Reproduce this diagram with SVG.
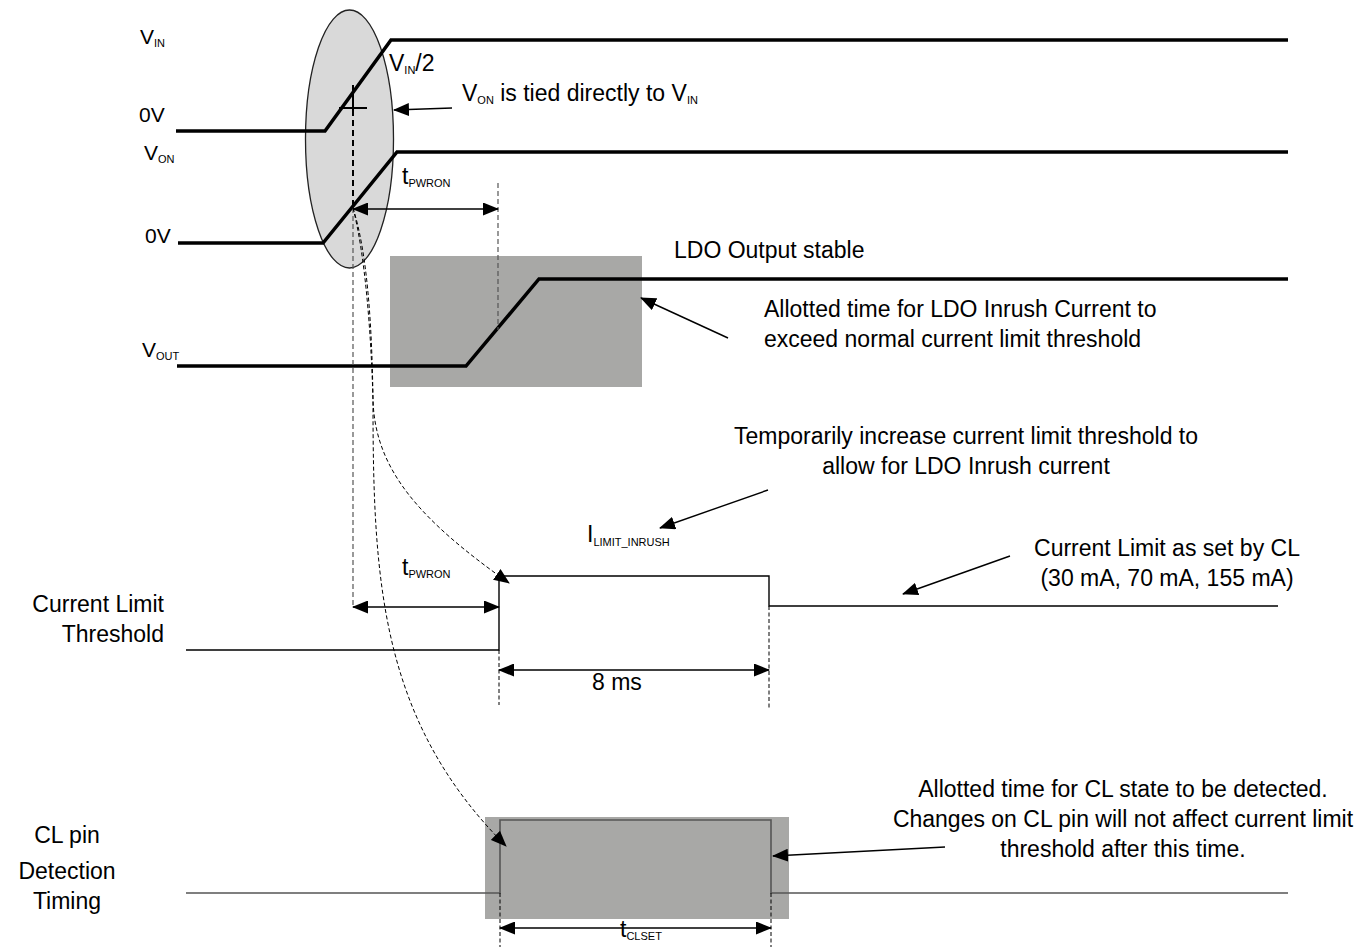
<svg xmlns="http://www.w3.org/2000/svg" width="1359" height="947" viewBox="0 0 1359 947">
<style>
text{font-family:"Liberation Sans",Arial,sans-serif;font-size:23px;fill:#000}
.lbl{font-size:21px}
.sub{font-size:11px}
.trace{fill:none;stroke:#000;stroke-width:3.5;stroke-linejoin:miter}
.thin{fill:none;stroke:#000;stroke-width:1.4}
.gsig{fill:none;stroke:#555;stroke-width:1.6}
.dash{fill:none;stroke:#555;stroke-width:1.2;stroke-dasharray:5 3}
.dash2{fill:none;stroke:#000;stroke-width:1;stroke-dasharray:4 2.5}
.arr{fill:none;stroke:#000;stroke-width:1.4}
.box{fill:#a8a8a6}
</style>
<defs>
<marker id="ah" markerUnits="userSpaceOnUse" markerWidth="16" markerHeight="13" refX="15" refY="6.5" orient="auto-start-reverse" viewBox="0 0 16 13">
<path d="M0,0 L16,6.5 L0,13 z" fill="#000"/>
</marker>
</defs>

<g id="backgrounds">
<ellipse id="ellipse" cx="349.5" cy="139" rx="44" ry="129" fill="#d9d9d9" stroke="#222" stroke-width="1.3"/>
<rect id="ldo-box" class="box" x="390" y="256" width="252" height="131"/>
<rect id="cl-box" class="box" x="485" y="817" width="304" height="102"/>
</g>

<g id="signals">
<polyline id="vin" class="trace" points="176,131 325,131 391,40 1288,40"/>
<polyline id="von" class="trace" points="178,243 323,243 397,152 1288,152"/>
<polyline id="vout" class="trace" points="177,366 466,366 539,279 1288,279"/>
<polyline id="climit" class="thin" points="186,650 499,650 499,576 769,576 769,606 1278,606"/>
<polyline id="clpin" class="gsig" points="186,893 500,893 500,820 771,820 771,893 1288,893"/>
<line x1="353" y1="85" x2="353" y2="110" stroke="#000" stroke-width="2"/>
<line x1="339" y1="108" x2="367" y2="108" stroke="#000" stroke-width="2"/>
</g>

<g id="connectors">
<line x1="353" y1="110" x2="353" y2="208" stroke="#000" stroke-width="2" stroke-dasharray="6 4"/>
<line class="dash" x1="353" y1="208" x2="353" y2="607"/>
<line class="dash" x1="498" y1="183" x2="498" y2="330"/>
<line class="dash2" x1="499" y1="650" x2="499" y2="705"/>
<line class="dash2" x1="769" y1="606" x2="769" y2="708"/>
<line class="dash2" x1="500" y1="893" x2="500" y2="947"/>
<line class="dash2" x1="771" y1="893" x2="771" y2="947"/>
<path class="dash2" d="M353,208 C368,255 372,330 373,400 C375,470 420,520 509,583" marker-end="url(#ah)"/>
<path class="dash2" d="M353,208 C365,255 371,330 373,400 C373,580 380,720 506,846" marker-end="url(#ah)"/>
<line class="arr" x1="452" y1="108" x2="394" y2="110" marker-end="url(#ah)"/>
<line class="arr" x1="353" y1="209" x2="498" y2="209" marker-start="url(#ah)" marker-end="url(#ah)"/>
<line class="arr" x1="728" y1="338" x2="641" y2="298" marker-end="url(#ah)"/>
<line class="arr" x1="768" y1="490" x2="660" y2="528" stroke-width="2" marker-end="url(#ah)"/>
<line class="arr" x1="1010" y1="556" x2="903" y2="594" marker-end="url(#ah)"/>
<line class="arr" x1="353" y1="607" x2="499" y2="607" marker-start="url(#ah)" marker-end="url(#ah)"/>
<line class="arr" x1="499" y1="670" x2="769" y2="670" marker-start="url(#ah)" marker-end="url(#ah)"/>
<line class="arr" x1="945" y1="847" x2="773" y2="856" marker-end="url(#ah)"/>
<line class="arr" x1="500" y1="928" x2="771" y2="928" stroke-width="2" marker-start="url(#ah)" marker-end="url(#ah)"/>
</g>

<g id="labels">
<text id="lbl-vin" class="lbl" x="140" y="44">V<tspan class="sub" font-size="10" dy="3">IN</tspan></text>
<text id="lbl-0v-1" class="lbl" x="139" y="122">0V</text>
<text id="lbl-von" class="lbl" x="144" y="160">V<tspan class="sub" font-size="10" dy="3">ON</tspan></text>
<text id="lbl-0v-2" class="lbl" x="145" y="243">0V</text>
<text id="lbl-vout" class="lbl" x="142" y="357">V<tspan class="sub" font-size="10" dy="3">OUT</tspan></text>
<text id="lbl-vin2" x="389" y="71">V<tspan class="sub" font-size="10" dy="3">IN</tspan><tspan dy="-3">/2</tspan></text>
<text id="lbl-tied" x="462" y="101">V<tspan class="sub" dy="3">ON</tspan><tspan dy="-3"> is tied directly to V</tspan><tspan class="sub" dy="3">IN</tspan></text>
<text id="lbl-tpwron-1" x="402" y="184">t<tspan class="sub" dy="3">PWRON</tspan></text>
<text id="lbl-ldo-stable" x="674" y="258">LDO Output stable</text>
<text id="lbl-ldo-allot" x="764" y="317">Allotted time for LDO Inrush Current to<tspan x="764" y="347">exceed  normal current limit threshold</tspan></text>
<text id="lbl-temp" text-anchor="middle" x="966" y="444">Temporarily increase current limit threshold to<tspan x="966" y="474">allow for LDO Inrush current</tspan></text>
<text id="lbl-ilimit" x="587" y="542">I<tspan class="sub" dy="4">LIMIT_INRUSH</tspan></text>
<text id="lbl-cl-set" text-anchor="middle" x="1167" y="556">Current Limit as set by CL<tspan x="1167" y="586">(30 mA, 70 mA, 155 mA)</tspan></text>
<text id="lbl-tpwron-2" x="402" y="575">t<tspan class="sub" dy="3">PWRON</tspan></text>
<text id="lbl-clt" text-anchor="end" x="164" y="612">Current Limit<tspan x="164" y="642">Threshold</tspan></text>
<text id="lbl-8ms" x="592" y="690">8 ms</text>
<text id="lbl-cl-allot" text-anchor="middle" x="1123" y="797">Allotted time for CL state to be detected.<tspan x="1123" y="827">Changes on CL pin will not affect current limit</tspan><tspan x="1123" y="857">threshold after this time.</tspan></text>
<text id="lbl-clpin" text-anchor="middle" x="67" y="843">CL pin<tspan x="67" y="879">Detection</tspan><tspan x="67" y="909">Timing</tspan></text>
<text id="lbl-tclset" x="620" y="937">t<tspan class="sub" dy="3">CLSET</tspan></text>
</g>
</svg>
